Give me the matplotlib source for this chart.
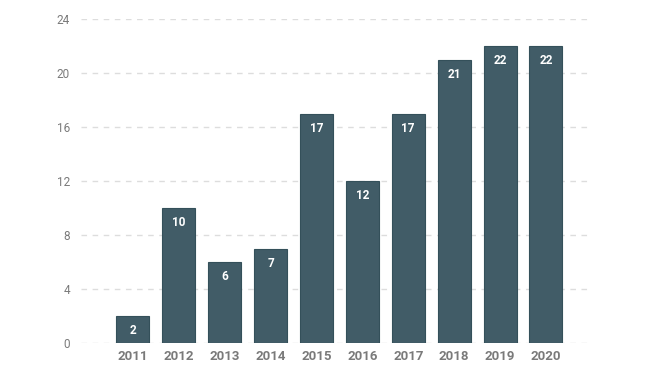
import matplotlib
matplotlib.use("Agg")
import matplotlib.pyplot as plt

years = ["2011", "2012", "2013", "2014", "2015", "2016", "2017", "2018", "2019", "2020"]
counts = [2, 10, 6, 7, 17, 12, 17, 21, 22, 22]
yticks = [0, 4, 8, 12, 16, 20, 24]

plt.rcParams['font.family'] = ['Roboto', 'DejaVu Sans']

fig = plt.figure(figsize=(6.55, 3.75), dpi=100)
ax = fig.add_axes([81 / 655, 1 - 343 / 375, (590 - 81) / 655, (343 - 19) / 375])

x = list(range(len(years)))
bars = ax.bar(x, counts, width=0.72, color="#415c67", edgecolor="#34505a",
              linewidth=0.8, zorder=3)

for xi, v in zip(x, counts):
    ax.text(xi, v - 0.6, str(v), ha="center", va="top", color="white",
            fontsize=8.5, fontweight="bold", zorder=4)

ax.set_xlim(-1.13, 9.96)
ax.set_ylim(0, 24)
ax.set_yticks(yticks)
ax.set_xticks(x)
ax.set_xticklabels(years, fontsize=9.5, fontweight="bold", color="#7a7a7a")
ax.tick_params(axis="y", labelsize=8.5, labelcolor="#7a7a7a", length=0, pad=8)
ax.tick_params(axis="x", length=0, pad=5)

ax.yaxis.grid(True, linestyle=(0, (4, 4)), color="#dddddd", linewidth=1, zorder=0)
for s in ax.spines.values():
    s.set_visible(False)

fig.savefig("out.png", dpi=100)
